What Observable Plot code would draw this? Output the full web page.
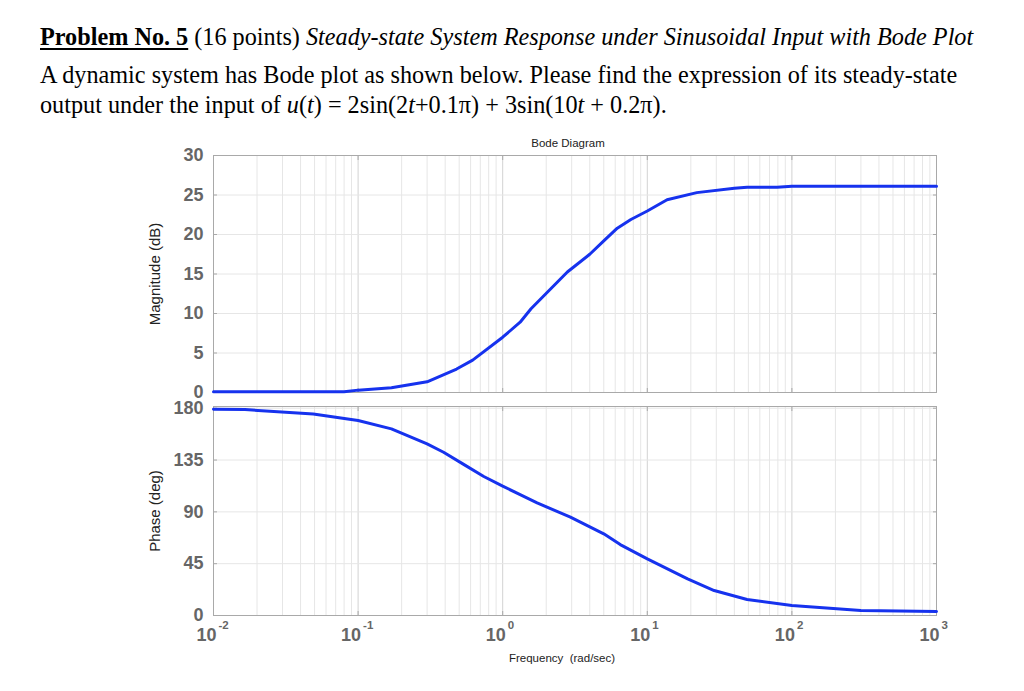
<!DOCTYPE html>
<html>
<head>
<meta charset="utf-8">
<script src="https://cdn.jsdelivr.net/npm/d3@7"></script>
<script src="https://cdn.jsdelivr.net/npm/@observablehq/plot@0.6"></script>
<style>
  html, body { margin: 0; padding: 0; background: #fff; width: 1024px; height: 691px; overflow: hidden; }
  .hdr { position: absolute; left: 40px; font-family: "Liberation Serif", "Times New Roman", serif; font-size: 23px; line-height: 23px; white-space: nowrap; color: #000; }
  .hdr u { text-decoration-thickness: 2px; text-underline-offset: 3px; }
  #top, #bot { position: absolute; left: 0; }
</style>
</head>
<body>
<div class="hdr" id="l1"><b><u>Problem No. 5</u></b> (16 points) <i>Steady-state System Response under Sinusoidal Input with Bode Plot</i></div>
<div class="hdr" id="l2">A dynamic system has Bode plot as shown below. Please find the expression of its steady-state</div>
<div class="hdr" id="l3">output under the input of <i>u</i>(<i>t</i>) = 2sin(2<i>t</i>+0.1π) + 3sin(10<i>t</i> + 0.2π).</div>
<div id="top"></div>
<div id="bot"></div>
<script>
// ---- data ----
const magFreq = [0.01, 0.02, 0.05, 0.08, 0.1, 0.17, 0.3, 0.48, 0.62, 1, 1.32, 1.57, 2.8, 4.0, 5.0, 6.2, 7.7, 10, 13.7, 22, 40, 49, 79, 100, 300, 1000];
const magDb   = [0.1, 0.1, 0.1, 0.1, 0.3, 0.6, 1.36, 2.97, 4.1, 7.0, 8.9, 10.6, 15.25, 17.5, 19.2, 20.8, 21.9, 22.97, 24.4, 25.3, 25.85, 25.97, 25.97, 26.1, 26.1, 26.1];
const phaseFreq = [0.01, 0.0165, 0.049, 0.1, 0.17, 0.3, 0.39, 0.53, 0.74, 1, 1.32, 1.73, 2.94, 5.0, 6.5, 10, 19, 29, 49, 100, 300, 1000];
const phaseDeg  = [179.1, 178.8, 175, 169.3, 162.1, 149, 141.8, 131.7, 120.7, 112.3, 105, 97.8, 85.4, 70.9, 61.6, 49.2, 31.8, 21.7, 13.9, 8.7, 4.3, 3.5];
const decades = [0.01, 0.1, 1, 10, 100, 1000];
const decadeExp = ["-2", "-1", "0", "1", "2", "3"];
const magTicks = [0, 5, 10, 15, 20, 25, 30];
const phaseTicks = [0, 45, 90, 135, 180];
const titleText = "Bode Diagram";
const magLabel = "Magnitude (dB)";
const phaseLabel = "Phase (deg)";
const freqLabel = "Frequency  (rad/sec)";

// header layout: fit line 2 to its width in the reference
(function () {
  const l2 = document.getElementById("l2");
  const w = l2.getBoundingClientRect().width;
  const fs = 23 * 918 / w;
  const tops = [26, 64, 94];
  ["l1", "l2", "l3"].forEach((id, i) => {
    const el = document.getElementById(id);
    el.style.fontSize = fs + "px";
    el.style.lineHeight = fs + "px";
    el.style.top = (tops[i] - (fs - 23) * 0.9) + "px";
  });
})();

const magData = magFreq.map((f, i) => ({f, v: magDb[i]}));
const phaseData = phaseFreq.map((f, i) => ({f, v: phaseDeg[i]}));
const minor = decades.slice(0, -1).flatMap(d => [2,3,4,5,6,7,8,9].map(k => d * k));

const blue = "#1632ee";
const gridMinor = "#e6e6e6";
const gridMajor = "#d2d2d2";
const frameColor = "#a9a9a9";
const tickColor = "#666";
const font = "Liberation Sans, Arial, sans-serif";

function panel(data, yDomain, yTicks, label, opts) {
  return Plot.plot({
    width: 1024,
    height: opts.height,
    marginLeft: 213,
    marginRight: 88,
    marginTop: opts.marginTop,
    marginBottom: opts.marginBottom,
    style: {fontFamily: font, background: "transparent", overflow: "visible"},
    x: {type: "log", domain: [0.01, 1000], axis: null},
    y: {domain: yDomain, axis: null},
    marks: [
      Plot.gridX(minor, {stroke: gridMinor, strokeOpacity: 1}),
      Plot.gridX(decades, {stroke: gridMajor, strokeOpacity: 1}),
      Plot.gridY(yTicks, {stroke: gridMinor, strokeOpacity: 1}),
      Plot.axisY(yTicks, {anchor: "right", tickSize: -4, stroke: frameColor, tickFormat: () => "", label: null}),
      Plot.axisY(yTicks, {anchor: "left", tickSize: -4, stroke: frameColor, tickPadding: 14, fontSize: 18, fontWeight: "bold", fill: tickColor, label: null}),
      Plot.axisX(decades, {anchor: "bottom", tickSize: -4, stroke: frameColor, tickFormat: () => "", label: null}),
      Plot.axisX(decades, {anchor: "top", tickSize: -4, stroke: frameColor, tickFormat: () => "", label: null}),
      Plot.frame({stroke: frameColor, strokeWidth: 1}),
      Plot.text([label], {text: d => d, frameAnchor: "left", textAnchor: "middle", dx: -58, rotate: -90, fontSize: 15, fill: "#222"}),
      Plot.line(data, {x: "f", y: "v", stroke: blue, strokeWidth: 3, curve: "linear"}),
      ...(opts.extra || [])
    ]
  });
}

const topPlot = panel(magData, [0, 30], magTicks, magLabel, {
  height: 267, marginTop: 25, marginBottom: 5,
  extra: [Plot.text([titleText], {text: d => d, frameAnchor: "top", dx: -7, dy: -17, fontSize: 11.5, fill: "#222"})]
});
document.getElementById("top").style.top = "125px";
document.getElementById("top").appendChild(topPlot);
topPlot.style.marginTop = "5px";

const botPlot = panel(phaseData, [0, 181.5], phaseTicks, phaseLabel, {
  height: 280, marginTop: 11, marginBottom: 60,
  extra: [
    Plot.text(decades, {x: d => d, text: () => "10", frameAnchor: "bottom", textAnchor: "end", dx: 3, dy: 25, fontSize: 18, fontWeight: "bold", fill: tickColor}),
    Plot.text(decades, {x: d => d, text: (d, i) => decadeExp[i], frameAnchor: "bottom", textAnchor: "start", dx: 5, dy: 13, fontSize: 11.5, fontWeight: "bold", fill: tickColor}),
    Plot.text([freqLabel], {text: d => d, frameAnchor: "bottom", dx: -13, dy: 46, fontSize: 11.5, fill: "#222"})
  ]
});
document.getElementById("bot").style.top = "395px";
document.getElementById("bot").appendChild(botPlot);
</script>
</body>
</html>
